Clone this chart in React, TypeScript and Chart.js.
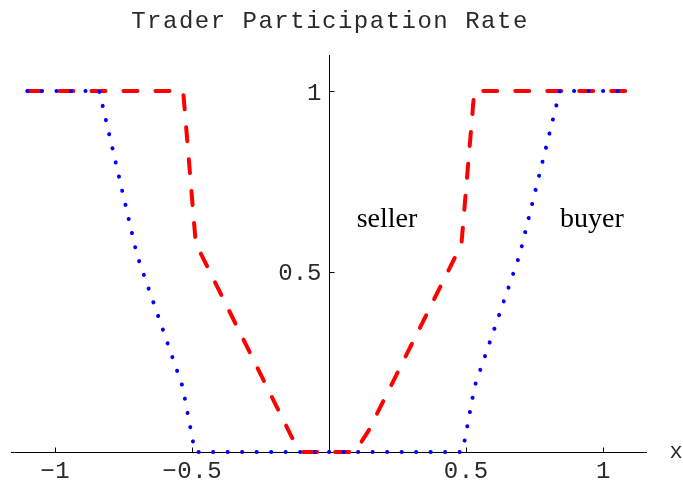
import { useEffect, useRef } from "react";
import { Chart, registerables } from "chart.js";

Chart.register(...registerables);

// Data
const sellerX = [-1.1, -0.532, -0.486, -0.135, -0.098, 0.095, 0.145, 0.483, 0.53, 1.1];
const sellerY = [1, 1, 0.578, 0.04, 0, 0, 0.06, 0.575, 1, 1];
const buyerX = [-1.1, -0.838, -0.7, -0.534, -0.489, 0.487, 0.531, 0.695, 0.842, 1.1];
const buyerY = [1, 1, 0.545, 0.181, 0, 0, 0.181, 0.545, 1, 1];
const xTickValues = [-1, -0.5, 0.5, 1];
const xTickLabels = ["\u22121", "\u22120.5", "0.5", "1"];
const yTickValues = [0.5, 1];
const yTickLabels = ["0.5", "1"];
const titleText = "Trader Participation Rate";
const xAxisLabel = "x";
const curveLabels = ["seller", "buyer"];

const toPts = (xs: number[], ys: number[]) => xs.map((x, i) => ({ x, y: ys[i] }));

const axesPlugin = {
  id: "mathAxes",
  beforeDatasetsDraw(chart: any) {
    const ctx = chart.ctx;
    const xs = chart.scales.x;
    const ys = chart.scales.y;
    const { left, right, top } = chart.chartArea;
    const y0 = Math.round(ys.getPixelForValue(0)) + 0.5;
    const x0 = Math.round(xs.getPixelForValue(0)) + 0.5;
    ctx.save();
    ctx.strokeStyle = "#000";
    ctx.lineWidth = 1;
    ctx.beginPath();
    ctx.moveTo(left, y0);
    ctx.lineTo(right, y0);
    ctx.moveTo(x0, top);
    ctx.lineTo(x0, y0);
    xTickValues.forEach((v) => {
      const px = Math.round(xs.getPixelForValue(v)) + 0.5;
      ctx.moveTo(px, y0);
      ctx.lineTo(px, y0 - 5);
    });
    yTickValues.forEach((v) => {
      const py = Math.round(ys.getPixelForValue(v)) + 0.5;
      ctx.moveTo(x0, py);
      ctx.lineTo(x0 + 5, py);
    });
    ctx.stroke();
    ctx.restore();
  },
  afterDraw(chart: any) {
    const ctx = chart.ctx;
    const xs = chart.scales.x;
    const ys = chart.scales.y;
    const y0 = ys.getPixelForValue(0);
    const x0 = xs.getPixelForValue(0);
    ctx.save();
    ctx.fillStyle = "#2a2a2a";
    // tick labels
    ctx.font = "24px 'Liberation Mono', 'DejaVu Sans Mono', monospace";
    ctx.textBaseline = "alphabetic";
    ctx.textAlign = "center";
    (ctx as any).letterSpacing = "0.6px";
    xTickValues.forEach((v, i) => {
      ctx.fillText(xTickLabels[i], xs.getPixelForValue(v) + 0.3, y0 + 25.7);
    });
    ctx.textAlign = "right";
    (ctx as any).letterSpacing = "0px";
    yTickValues.forEach((v, i) => {
      ctx.fillText(yTickLabels[i], x0 - 7.5, ys.getPixelForValue(v) + 8.5);
    });
    // axis label
    ctx.font = "22px 'Liberation Mono', 'DejaVu Sans Mono', monospace";
    ctx.textAlign = "center";
    ctx.fillText(xAxisLabel, 676, y0 + 6.3);
    // title
    ctx.font = "24px 'Liberation Mono', 'DejaVu Sans Mono', monospace";
    (ctx as any).letterSpacing = "1.5px";
    ctx.textAlign = "center";
    ctx.fillText(titleText, 330, 28.3);
    (ctx as any).letterSpacing = "0px";
    // curve labels
    ctx.fillStyle = "#000";
    ctx.font = "28px 'Liberation Serif', 'DejaVu Serif', serif";
    ctx.textAlign = "left";
    ctx.fillText(curveLabels[0], xs.getPixelForValue(0.101), ys.getPixelForValue(0.624));
    ctx.fillText(curveLabels[1], xs.getPixelForValue(0.843), ys.getPixelForValue(0.624));
    ctx.restore();
  },
};

export default function App() {
  const canvasRef = useRef<HTMLCanvasElement | null>(null);

  useEffect(() => {
    if (!canvasRef.current) return;
    const chart = new Chart(canvasRef.current, {
      type: "line",
      data: {
        datasets: [
          {
            label: curveLabels[1],
            data: toPts(buyerX, buyerY),
            borderColor: "#0000FF",
            borderWidth: 4,
            borderDash: [0.1, 14.4],
            borderCapStyle: "round",
            borderJoinStyle: "round",
            pointRadius: 0,
            tension: 0,
            fill: false,
            clip: false,
          } as any,
          {
            label: curveLabels[0],
            data: toPts(sellerX, sellerY),
            borderColor: "#FF0000",
            borderWidth: 4,
            borderDash: [14, 18],
            borderCapStyle: "round",
            borderJoinStyle: "round",
            pointRadius: 0,
            tension: 0,
            fill: false,
            clip: false,
          } as any,
        ],
      },
      options: {
        animation: false,
        responsive: true,
        maintainAspectRatio: false,
        layout: { padding: { left: 11, right: 36, top: 55, bottom: 30 } },
        plugins: { legend: { display: false }, title: { display: false }, tooltip: { enabled: false } },
        events: [],
        scales: {
          x: { type: "linear", min: -1.16, max: 1.16, display: false },
          y: { type: "linear", min: 0, max: 1.1, display: false },
        },
      },
      plugins: [axesPlugin],
    });
    return () => chart.destroy();
  }, []);

  return (
    <div style={{ position: "fixed", left: 0, top: 0, width: 683, height: 482, background: "#fff" }}>
      <canvas ref={canvasRef} />
    </div>
  );
}
